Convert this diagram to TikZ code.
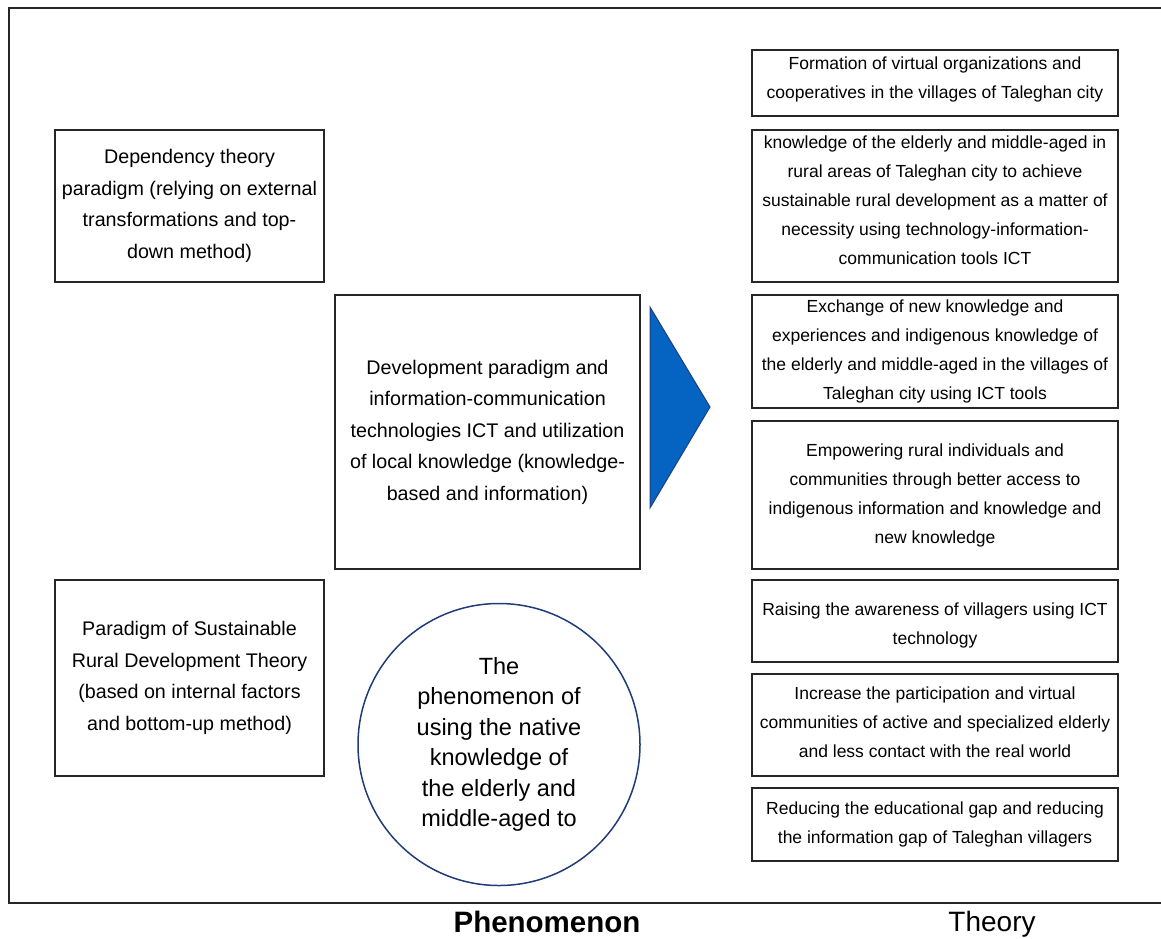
\documentclass[tikz,border=0pt]{standalone}
\usepackage{fontspec}
\setmainfont{Liberation Sans}
\definecolor{boxline}{HTML}{262626}
\definecolor{arrowfill}{HTML}{0563C1}
\definecolor{arrowline}{HTML}{1F3F7F}
\definecolor{circleline}{HTML}{1F3C78}
\tikzset{
  leftbox/.style={draw=boxline, line width=1.5pt, align=center, inner sep=2pt,
    font=\fontsize{19.7}{31.5}\selectfont},
  rightbox/.style={draw=boxline, line width=1.5pt, inner sep=0pt,
    minimum width=366pt},
  rtext/.style={align=center, inner sep=0pt, font=\fontsize{17.5}{29}\selectfont},
  bigcircle/.style={circle, draw=circleline, line width=1.5pt, align=center,
    minimum size=282pt, inner sep=0pt, font=\fontsize{23.5}{30.5}\selectfont},
  axislabel/.style={font=\fontsize{28}{32}\selectfont}
}
\begin{document}
\begin{tikzpicture}[x=1pt,y=-1pt]
\useasboundingbox (0,0) rectangle (1161,938);
% outer frame
\draw[line width=1.2pt, boxline] (1170,8) -- (9,8) -- (9,903) -- (1170,903);

% left boxes
\node[leftbox, minimum width=269pt, minimum height=152pt] (dep) at (189.5,206)
  {Dependency theory\\paradigm (relying on external\\transformations and top-\\down method)};
\node[leftbox, minimum width=305pt, minimum height=274pt] (dev) at (487.5,432)
  {Development paradigm and\\information-communication\\technologies ICT and utilization\\of local knowledge (knowledge-\\based and information)};
\node[leftbox, minimum width=269pt, minimum height=196pt] (par) at (189.5,678)
  {Paradigm of Sustainable\\Rural Development Theory\\(based on internal factors\\and bottom-up method)};

% circle
\node[bigcircle] (phen) at (499,744.5)
  {The\\phenomenon of\\using the native\\knowledge of\\the elderly and\\middle-aged to};

% arrow triangle
\coordinate (t1) at (650,307);
\coordinate (t2) at (710,407);
\coordinate (t3) at (650,508);
\draw[fill=arrowfill, draw=arrowline, line width=1pt, line join=miter] (t1) -- (t2) -- (t3) -- cycle;

% right boxes
\node[rightbox, minimum height=66pt] (r1) at (935,83) {};
\node[rtext] (r1t) at ([yshift=4pt]r1.center)
  {Formation of virtual organizations and\\cooperatives in the villages of Taleghan city};
\node[rightbox, minimum height=152pt] (r2) at (935,206) {};
\node[rtext] (r2t) at ([yshift=6pt]r2.center)
  {knowledge of the elderly and middle-aged in\\rural areas of Taleghan city to achieve\\sustainable rural development as a matter of\\necessity using technology-information-\\communication tools ICT};
\node[rightbox, minimum height=113pt] (r3) at (935,351.5) {};
\node[rtext] (r3t) at (r3.center)
  {Exchange of new knowledge and\\experiences and indigenous knowledge of\\the elderly and middle-aged in the villages of\\Taleghan city using ICT tools};
\node[rightbox, minimum height=148pt] (r4) at (935,495) {};
\node[rtext] (r4t) at (r4.center)
  {Empowering rural individuals and\\communities through better access to\\indigenous information and knowledge and\\new knowledge};
\node[rightbox, minimum height=82pt] (r5) at (935,621) {};
\node[rtext] (r5t) at ([yshift=-4pt]r5.center)
  {Raising the awareness of villagers using ICT\\technology};
\node[rightbox, minimum height=102pt] (r6) at (935,725) {};
\node[rtext] (r6t) at ([yshift=2.5pt]r6.center)
  {Increase the participation and virtual\\communities of active and specialized elderly\\and less contact with the real world};
\node[rightbox, minimum height=73pt] (r7) at (935,824.5) {};
\node[rtext] (r7t) at (r7.center)
  {Reducing the educational gap and reducing\\the information gap of Taleghan villagers};

% axis labels
\node[axislabel, font=\fontsize{29.5}{32}\selectfont\bfseries] (lphen) at (547,922) {Phenomenon};
\node[axislabel] (ltheo) at (992,924) {Theory};
\end{tikzpicture}
\end{document}
